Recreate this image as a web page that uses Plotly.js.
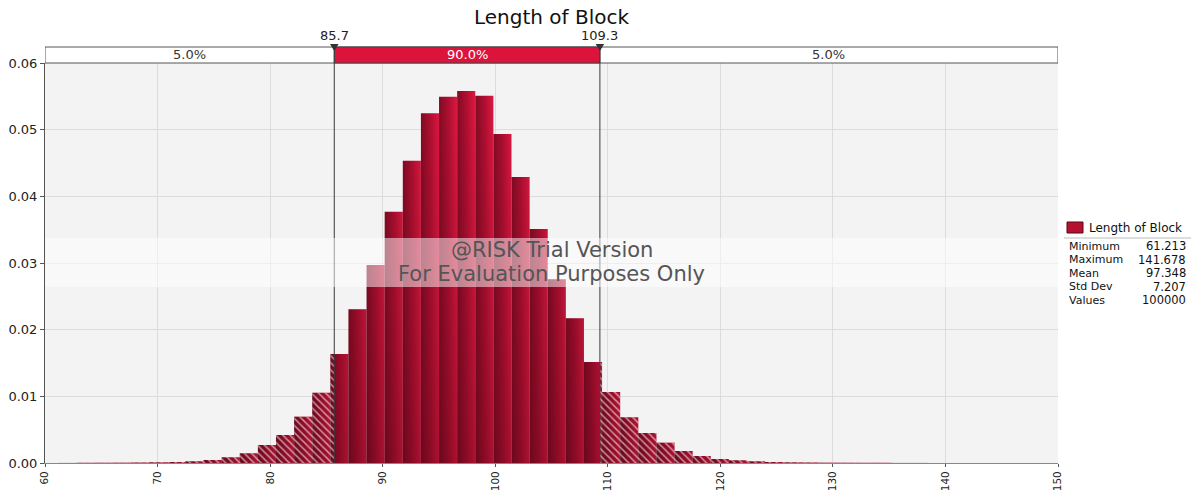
<!DOCTYPE html>
<html>
<head>
<meta charset="utf-8">
<script src="https://cdn.plot.ly/plotly-3.0.1.min.js"></script>
<style>html,body{margin:0;padding:0;background:#fff;}#chart{width:1194px;height:491px;}</style>
</head>
<body>
<div id="chart"></div>
<script>
// ---- data ----
const seriesName = 'Length of Block';
const binMin = 61.213;
const binMax = 141.678;
const density = [
  0.00002, 0.00003, 0.00004, 0.00005, 0.00007,
  0.00010, 0.00015, 0.00025, 0.00045, 0.00085,
  0.00145, 0.00270, 0.00420, 0.00695, 0.01055,
  0.01635, 0.02305, 0.02970, 0.03770, 0.04535,
  0.05245, 0.05495, 0.05580, 0.05510, 0.04935,
  0.04290, 0.03510, 0.02755, 0.02170, 0.01515,
  0.01065, 0.00685, 0.00450, 0.00305, 0.00180,
  0.00105, 0.00060, 0.00040, 0.00025, 0.00015,
  0.00010, 0.00007, 0.00005, 0.00004, 0.00003,
  0.00003, 0.00002, 0.00002, 0.00001, 0.00001
];
const pLow = 85.7;
const pHigh = 109.3;
const pLowLabel = '85.7';
const pHighLabel = '109.3';
const bandLabels = ['5.0%', '90.0%', '5.0%'];
const statNames = ['Minimum', 'Maximum', 'Mean', 'Std Dev', 'Values'];
const statValues = ['61.213', '141.678', '97.348', '7.207', '100000'];
const xRange = [60, 150];
const yRange = [0, 0.06];

// ---- derived bin edges ----
const nBins = density.length;
const bw = (binMax - binMin) / nBins;
const edges = [];
for (let i = 0; i <= nBins; i++) edges.push(binMin + i * bw);

const FONT = 'DejaVu Sans, Verdana, sans-serif';
const traces = [];

// gradient bars
for (let k = 0; k < nBins; k++) {
  const l = edges[k], r = edges[k + 1], h = density[k];
  traces.push({
    type: 'scatter', mode: 'lines',
    x: [l, l, r, r, l], y: [0, h, h, 0, 0],
    fill: 'toself',
    fillcolor: '#c01236',
    fillgradient: {type: 'horizontal', colorscale: [[0, '#820b24'], [0.55, '#b30f32'], [1, '#de1842']]},
    line: {width: 0, color: 'rgba(0,0,0,0)'},
    hoverinfo: 'skip', showlegend: false
  });
}

// vertical darkening overlay
{
  const xs = edges.slice();
  const ys = density.concat([density[nBins - 1]]);
  traces.push({
    type: 'scatter', mode: 'lines', x: xs, y: ys,
    line: {shape: 'hv', width: 0, color: 'rgba(0,0,0,0)'},
    fill: 'tozeroy',
    fillcolor: 'rgba(0,0,0,0)',
    fillgradient: {type: 'vertical', start: 0, stop: 0.056,
      colorscale: [[0, 'rgba(40,0,8,0.28)'], [1, 'rgba(40,0,8,0)']]},
    hoverinfo: 'skip', showlegend: false
  });
}

// hatch overlays for tails
function tailTrace(xs, ys) {
  return {
    type: 'scatter', mode: 'lines', x: xs, y: ys,
    line: {shape: 'hv', width: 0, color: 'rgba(0,0,0,0)'},
    fill: 'tozeroy', fillcolor: 'rgba(0,0,0,0)',
    fillpattern: {shape: '\\', fgcolor: '#ffffff', bgcolor: 'rgba(0,0,0,0)', fgopacity: 0.55, size: 5, solidity: 0.3},
    hoverinfo: 'skip', showlegend: false
  };
}
{
  const xs = [], ys = [];
  for (let k = 0; k < nBins && edges[k] < pLow; k++) { xs.push(edges[k]); ys.push(density[k]); }
  xs.push(pLow); ys.push(ys[ys.length - 1]);
  traces.push(tailTrace(xs, ys));
}
{
  const xs = [], ys = [];
  for (let k = 0; k < nBins; k++) {
    if (edges[k + 1] <= pHigh) continue;
    xs.push(Math.max(edges[k], pHigh)); ys.push(density[k]);
  }
  xs.push(edges[nBins]); ys.push(density[nBins - 1]);
  traces.push(tailTrace(xs, ys));
}

// ---- geometry helpers (paper coords) ----
const L = 45, T = 63, W = 1013, H = 400;
const px = v => (v - L) / W;
const py = v => (T + H - v) / H;

const shapes = [
  {type: 'rect', xref: 'x', yref: 'paper', x0: xRange[0], x1: xRange[1], y0: 1, y1: 1.04, fillcolor: '#ffffff', line: {color: '#555', width: 1}},
  {type: 'rect', xref: 'x', yref: 'paper', x0: pLow, x1: pHigh, y0: 1, y1: 1.04, fillcolor: '#dc143c', line: {color: '#444', width: 1}},
  {type: 'line', xref: 'x', yref: 'paper', x0: pLow, x1: pLow, y0: 0, y1: 1.04, line: {color: '#3a3a3a', width: 1}, layer: 'above'},
  {type: 'line', xref: 'x', yref: 'paper', x0: pHigh, x1: pHigh, y0: 0, y1: 1.04, line: {color: '#3a3a3a', width: 1}, layer: 'above'},
  {type: 'path', xref: 'x', yref: 'paper', path: `M ${pLow - 0.38} 1.0475 L ${pLow + 0.38} 1.0475 L ${pLow} 1.03 Z`, fillcolor: '#333', line: {width: 0}},
  {type: 'path', xref: 'x', yref: 'paper', path: `M ${pHigh - 0.38} 1.0475 L ${pHigh + 0.38} 1.0475 L ${pHigh} 1.03 Z`, fillcolor: '#333', line: {width: 0}},
  {type: 'rect', xref: 'paper', yref: 'paper', x0: 0, x1: 1, y0: py(287), y1: py(238), fillcolor: 'rgba(255,255,255,0.5)', line: {width: 0}, layer: 'above'},
  {type: 'rect', xref: 'paper', yref: 'paper', x0: px(1067), x1: px(1083), y0: py(233), y1: py(222), fillcolor: '#b5102f', line: {color: '#5a0614', width: 1}},
  {type: 'line', xref: 'paper', yref: 'paper', x0: px(1064), x1: px(1191), y0: py(238), y1: py(238), line: {color: '#bbbbbb', width: 1}}
];

const annotations = [
  {xref: 'x', yref: 'paper', x: (xRange[0] + pLow) / 2, y: 1.02, text: bandLabels[0], showarrow: false, yanchor: 'middle', font: {family: FONT, size: 13, color: '#333'}},
  {xref: 'x', yref: 'paper', x: (pLow + pHigh) / 2, y: 1.02, text: bandLabels[1], showarrow: false, yanchor: 'middle', font: {family: FONT, size: 13, color: '#ffffff'}},
  {xref: 'x', yref: 'paper', x: (pHigh + xRange[1]) / 2, y: 1.02, text: bandLabels[2], showarrow: false, yanchor: 'middle', font: {family: FONT, size: 13, color: '#333'}},
  {xref: 'x', yref: 'paper', x: pLow, y: py(45), text: pLowLabel, showarrow: false, yanchor: 'bottom', font: {family: FONT, size: 13, color: '#222'}},
  {xref: 'x', yref: 'paper', x: pHigh, y: py(45), text: pHighLabel, showarrow: false, yanchor: 'bottom', font: {family: FONT, size: 13, color: '#222'}},
  {xref: 'paper', yref: 'paper', x: 0.5, y: py(250), text: '@RISK Trial Version', showarrow: false, yanchor: 'middle', font: {family: FONT, size: 21, color: '#555'}},
  {xref: 'paper', yref: 'paper', x: 0.5, y: py(274), text: 'For Evaluation Purposes Only', showarrow: false, yanchor: 'middle', font: {family: FONT, size: 21, color: '#555'}},
  {xref: 'paper', yref: 'paper', x: px(1087), y: py(228), text: seriesName, showarrow: false, xanchor: 'left', yanchor: 'middle', font: {family: FONT, size: 12, color: '#111'}}
];
const rowY = [246, 259.5, 273, 286.5, 300];
for (let i = 0; i < statNames.length; i++) {
  annotations.push({xref: 'paper', yref: 'paper', x: px(1067), y: py(rowY[i]), text: statNames[i], showarrow: false, xanchor: 'left', yanchor: 'middle', font: {family: FONT, size: 11, color: '#111'}});
  annotations.push({xref: 'paper', yref: 'paper', x: px(1188), y: py(rowY[i]), text: statValues[i], showarrow: false, xanchor: 'right', yanchor: 'middle', font: {family: FONT, size: 11.5, color: '#111'}});
}

const layout = {
  width: 1194, height: 491,
  margin: {l: 45, r: 136, t: 63, b: 28, pad: 0},
  paper_bgcolor: '#ffffff', plot_bgcolor: '#f3f3f3',
  showlegend: false,
  title: {text: seriesName, x: px(551.5), xref: 'paper', xanchor: 'center', y: 1 - 17 / 491, yref: 'container', yanchor: 'middle', font: {family: FONT, size: 20, color: '#111'}},
  xaxis: {range: xRange, dtick: 10, tick0: 60, showgrid: true, gridcolor: '#dcdcdc', zeroline: false,
    showline: true, linecolor: '#888', ticks: 'outside', ticklen: 3, tickcolor: '#555', tickangle: -90,
    tickfont: {family: FONT, size: 10.5, color: '#222'}, fixedrange: true},
  yaxis: {range: yRange, dtick: 0.01, tickformat: '.2f', showgrid: true, gridcolor: '#dcdcdc', zeroline: false,
    showline: true, linecolor: '#555', ticks: 'outside', ticklen: 4, tickcolor: '#555',
    tickfont: {family: FONT, size: 13, color: '#222'}, fixedrange: true},
  shapes: shapes,
  annotations: annotations
};

Plotly.newPlot('chart', traces, layout, {displayModeBar: false, staticPlot: true});
</script>
</body>
</html>
